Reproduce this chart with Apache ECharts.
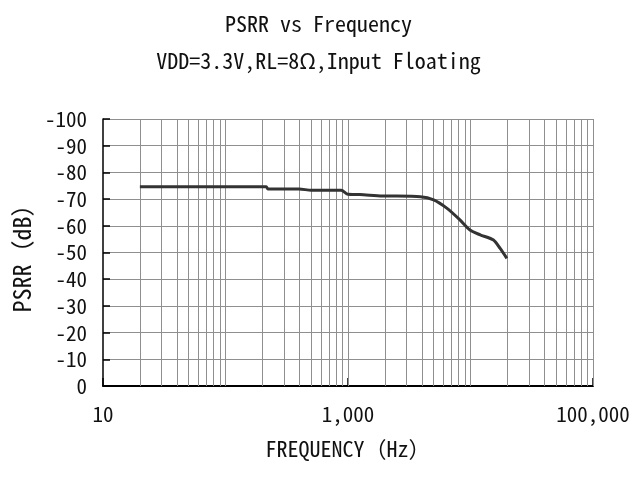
<!DOCTYPE html>
<html><head><meta charset="utf-8">
<script src="https://cdn.jsdelivr.net/npm/echarts@6/dist/echarts.min.js"></script>
<style>html,body{margin:0;padding:0;background:#fff}#c{width:637px;height:488px}</style>
</head><body><div id="c"></div>
<script>
const titleText = 'PSRR vs Frequency';
const subtitleText = 'VDD=3.3V,RL=8Ω,Input Floating';
const xName = 'FREQUENCY（Hz）';
const yName = 'PSRR（dB）';
const freqHz = [20, 215, 222, 400, 500, 880, 1000, 1250, 1900, 3900, 5000, 6400, 8200, 9900, 12000, 15400, 17400, 19800];
const psrrDb = [-74.6, -74.6, -73.8, -73.8, -73.3, -73.3, -71.8, -71.7, -71.2, -70.9, -69.7, -66.6, -62.2, -58.4, -56.6, -54.7, -51.6, -47.8];
const xLabelFreqs = [10, 1000, 100000];
const gridFreqs = [20, 30, 40, 50, 60, 70, 80, 90, 100,
  200, 300, 400, 500, 600, 700, 800, 900, 1000,
  2000, 3000, 4000, 5000, 6000, 7000, 8000, 9000, 10000,
  20000, 30000, 40000, 50000, 60000, 70000, 80000, 90000, 100000];

const FONT = "'Noto Sans Mono CJK SC','Noto Sans CJK SC',monospace";
const chart = echarts.init(document.getElementById('c'));
chart.setOption({
  backgroundColor: '#fff',
  animation: false,
  title: [
    {text: titleText, left: 'center', top: 8, textStyle: {fontFamily: FONT, fontSize: 22, fontWeight: 'normal', color: '#111'}},
    {text: subtitleText, left: 'center', top: 45, textStyle: {fontFamily: FONT, fontSize: 22, fontWeight: 'normal', color: '#111'}}
  ],
  grid: {left: 103, right: 44, top: 119, bottom: 102, containLabel: false},
  xAxis: [
    {
      type: 'log', logBase: 10, min: 10, max: 100000, position: 'bottom',
      name: xName, nameLocation: 'middle', nameGap: 52,
      nameTextStyle: {fontFamily: FONT, fontSize: 22, color: '#111'},
      axisLine: {onZero: false, lineStyle: {color: '#000', width: 2}},
      axisTick: {show: false},
      splitLine: {show: false},
      axisLabel: {
        margin: 18, fontFamily: FONT, fontSize: 21, color: '#111',
        formatter: function (v) {
          const r = Math.round(v);
          return xLabelFreqs.indexOf(r) >= 0 ? r.toLocaleString('en-US') : '';
        }
      }
    },
    {
      type: 'value', min: 0, max: 4, interval: 2, position: 'bottom',
      axisLine: {show: false},
      axisTick: {show: true, inside: true, length: 8, lineStyle: {color: '#000', width: 1.5}},
      axisLabel: {show: false},
      splitLine: {show: false}
    }
  ],
  yAxis: {
    type: 'value', min: -100, max: 0, interval: 10, inverse: true,
    name: yName, nameLocation: 'middle', nameGap: 60, nameRotate: 90,
    nameTextStyle: {fontFamily: FONT, fontSize: 24, color: '#111'},
    axisLine: {show: true, onZero: false, lineStyle: {color: '#000', width: 1.5}},
    axisTick: {show: true, inside: true, length: 7, lineStyle: {color: '#000', width: 1.5}},
    axisLabel: {margin: 16, fontFamily: FONT, fontSize: 21, color: '#111'},
    splitLine: {show: true, lineStyle: {color: '#8f8f8f', width: 1}}
  },
  series: [
    {
      type: 'line', xAxisIndex: 0, data: [], z: 1, silent: true,
      markLine: {
        silent: true, symbol: ['none', 'none'], label: {show: false},
        lineStyle: {color: '#8f8f8f', width: 1, type: 'solid'},
        emphasis: {disabled: true},
        data: gridFreqs.map(f => ({xAxis: f}))
      }
    },
    {
      type: 'line', xAxisIndex: 0, z: 10, showSymbol: false, smooth: 0.25,
      lineStyle: {color: '#333', width: 3},
      data: freqHz.map((f, i) => [f, psrrDb[i]])
    }
  ]
});
</script></body></html>
